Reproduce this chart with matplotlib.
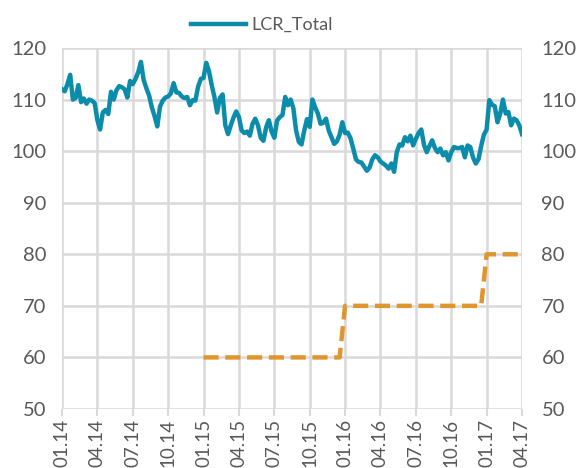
import numpy as np
import matplotlib.pyplot as plt

# weekly LCR values, 01.14 .. 04.17 (170 weeks)
lcr_total = [
    112.0, 111.6, 113.0, 114.8, 110.0, 110.3, 112.8, 109.5, 110.2, 109.2,
    110.0, 109.8, 109.3, 106.0, 104.2, 107.5, 108.0, 107.2, 111.5, 110.0,
    111.8, 112.6, 112.4, 112.0, 110.4, 113.6, 113.0, 114.0, 115.3, 117.3,
    113.8, 112.2, 110.8, 108.5, 106.8, 104.8, 108.6, 109.8, 110.4, 110.6,
    111.2, 113.2, 111.4, 111.3, 110.6, 110.3, 110.5, 108.9, 109.9, 109.8,
    112.5, 114.0, 114.2, 117.1, 115.5, 112.8, 110.5, 107.5, 110.3, 111.0,
    105.0, 103.3, 105.0, 106.5, 107.7, 106.6, 104.0, 103.5, 103.8, 103.0,
    105.3, 106.3, 105.0, 102.6, 102.0, 104.6, 106.0, 103.8, 102.6, 105.9,
    106.6, 107.0, 110.5, 108.9, 110.0, 108.3, 104.0, 101.8, 101.3, 104.0,
    106.2, 104.7, 110.0, 108.5, 107.3, 105.3, 105.5, 106.3, 104.0, 102.7,
    101.4, 101.9, 103.2, 105.6, 103.5, 103.6, 102.5, 100.5, 98.4, 97.9,
    97.8, 97.0, 96.2, 96.8, 98.4, 99.2, 98.8, 98.0, 97.6, 97.2,
    96.6, 97.6, 96.0, 99.8, 101.3, 101.1, 102.7, 101.9, 103.0, 101.1,
    102.4, 103.5, 104.2, 101.2, 99.8, 101.0, 102.1, 100.6, 99.8, 100.5,
    99.2, 99.8, 98.2, 99.8, 100.8, 100.6, 100.6, 100.8, 98.8, 101.1,
    100.8, 98.8, 97.6, 98.4, 101.0, 103.2, 104.2, 109.9, 109.0, 108.7,
    105.6, 107.3, 110.0, 107.3, 107.6, 105.0, 106.3, 106.0, 105.0, 103.3,
]

# minimum requirement (step line), week index and value
req_weeks = [52, 102, 104, 154, 156, 169]
req_values = [60, 60, 70, 70, 80, 80]

tick_labels = ['01.14', '04.14', '07.14', '10.14', '01.15', '04.15', '07.15',
               '10.15', '01.16', '04.16', '07.16', '10.16', '01.17', '04.17']

teal = '#0B8CAA'
orange = '#E0962F'
grey_txt = '#595959'
grid_c = '#D9D9D9'

plt.rcParams['font.family'] = ['Lato', 'DejaVu Sans']

fig = plt.figure(figsize=(5.79, 4.68), dpi=100)
ax = fig.add_axes([62 / 579, 1 - 409 / 468, 460 / 579, 361 / 468])

weeks = np.arange(len(lcr_total))
ax.plot(weeks, lcr_total, color=teal, lw=3.2, label='LCR_Total', solid_joinstyle='round', zorder=3)
ax.plot(req_weeks, req_values, color=orange, lw=3.2, dashes=(3.4, 1.5), zorder=3)

ax.set_xlim(0, 169)
ax.set_ylim(50, 120)
ax.set_xticks(np.arange(0, 170, 13))
ax.set_xticklabels(tick_labels, rotation=90)
ax.set_yticks(range(50, 121, 10))
ax.grid(True, color=grid_c, lw=1.8)
ax.set_axisbelow(True)
for s in ax.spines.values():
    s.set_visible(False)
ax.tick_params(axis='x', colors=grid_c, length=5, width=1.5, labelcolor=grey_txt, labelsize=13.5, pad=2)
ax.tick_params(axis='y', length=0, labelcolor=grey_txt, labelsize=14.5, pad=11)

ax2 = ax.twinx()
ax2.set_ylim(50, 120)
ax2.set_yticks(range(50, 121, 10))
for s in ax2.spines.values():
    s.set_visible(False)
ax2.tick_params(axis='y', length=0, labelcolor=grey_txt, labelsize=14.5, pad=14)

ax.legend(loc='center', bbox_to_anchor=(262 / 579, 1 - 25 / 468), bbox_transform=fig.transFigure,
          frameon=False, fontsize=13, labelcolor=grey_txt, handlelength=3.0, handletextpad=0.3)

plt.savefig('out.png', dpi=100)
